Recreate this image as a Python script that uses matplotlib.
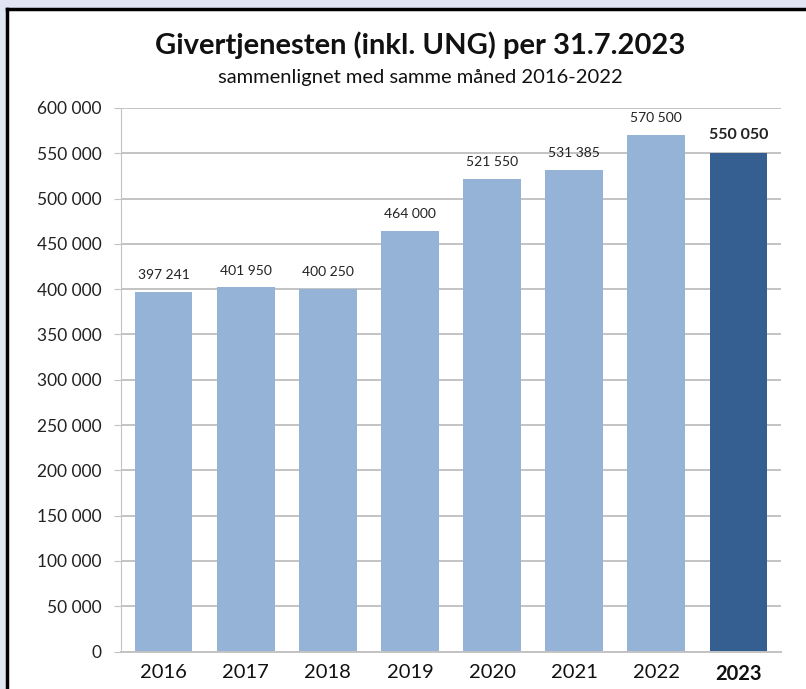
import matplotlib.pyplot as plt
from matplotlib.patches import Rectangle
from matplotlib.lines import Line2D
from matplotlib.ticker import FuncFormatter

years = ['2016', '2017', '2018', '2019', '2020', '2021', '2022', '2023']
values = [397241, 401950, 400250, 464000, 521550, 531385, 570500, 550050]
highlight = '2023'

light = '#95b3d7'
dark = '#365f91'
grid_col = '#c3c3c3'

plt.rcParams['font.family'] = ['Lato', 'DejaVu Sans']

fig = plt.figure(figsize=(8.06, 6.89), dpi=100)
fig.patch.set_facecolor('#dfe5f3')

# white panel with black frame on left/top
fig.patches.append(Rectangle((7 / 806, 0), 1, 1 - 9 / 689, transform=fig.transFigure,
                             facecolor='white', edgecolor='none', zorder=-10))
fig.lines.append(Line2D([7 / 806, 7 / 806], [0, 1 - 9 / 689], transform=fig.transFigure,
                        color='black', lw=2.5, zorder=-5))
fig.lines.append(Line2D([7 / 806, 1], [1 - 9 / 689, 1 - 9 / 689], transform=fig.transFigure,
                        color='black', lw=2.5, zorder=-5))

ax = fig.add_axes([121 / 806, 1 - 651.5 / 689, 660 / 806, 543.5 / 689])
ax.set_facecolor('none')
ax.set_zorder(1)

x = range(len(years))
colors = [dark if y == highlight else light for y in years]
ax.bar(x, values, width=0.7, color=colors, zorder=2)

for i, (y, v) in enumerate(zip(years, values)):
    label = f'{v:,}'.replace(',', ' ')
    bold = y == highlight
    ax.text(i, v + 12000, label, ha='center', va='bottom',
            fontsize=11.5 if bold else 10, fontweight='bold' if bold else 'normal',
            color='#222222')

ax.set_xlim(-0.52, 7.52)
ax.set_ylim(0, 600000)
ax.set_yticks(range(0, 600001, 50000))
ax.yaxis.set_major_formatter(FuncFormatter(lambda v, p: f'{int(v):,}'.replace(',', ' ')))
ax.grid(axis='y', color=grid_col, lw=1.4, zorder=1)
ax.set_axisbelow(True)

for s in ['top', 'right']:
    ax.spines[s].set_visible(False)
ax.spines['left'].set_color(grid_col)
ax.spines['bottom'].set_color(grid_col)
ax.spines['bottom'].set_linewidth(1.4)
ax.tick_params(axis='y', length=5, color=grid_col, labelsize=12.5, pad=9, labelcolor='#222222')
ax.tick_params(axis='x', length=0, labelsize=14.5, pad=9, labelcolor='#111111')
ax.set_xticks(list(x))
ax.set_xticklabels(years)
for lbl in ax.get_xticklabels():
    if lbl.get_text() == highlight:
        lbl.set_fontweight('bold')

fig.text(420 / 806, 1 - 45 / 689, 'Givertjenesten (inkl. UNG) per 31.7.2023',
         ha='center', va='center', fontsize=21, fontweight='bold', color='#111111')
fig.text(420 / 806, 1 - 78 / 689, 'sammenlignet med samme måned 2016-2022',
         ha='center', va='center', fontsize=14.5, color='#111111')

fig.savefig('out.png', dpi=100, facecolor=fig.get_facecolor())
